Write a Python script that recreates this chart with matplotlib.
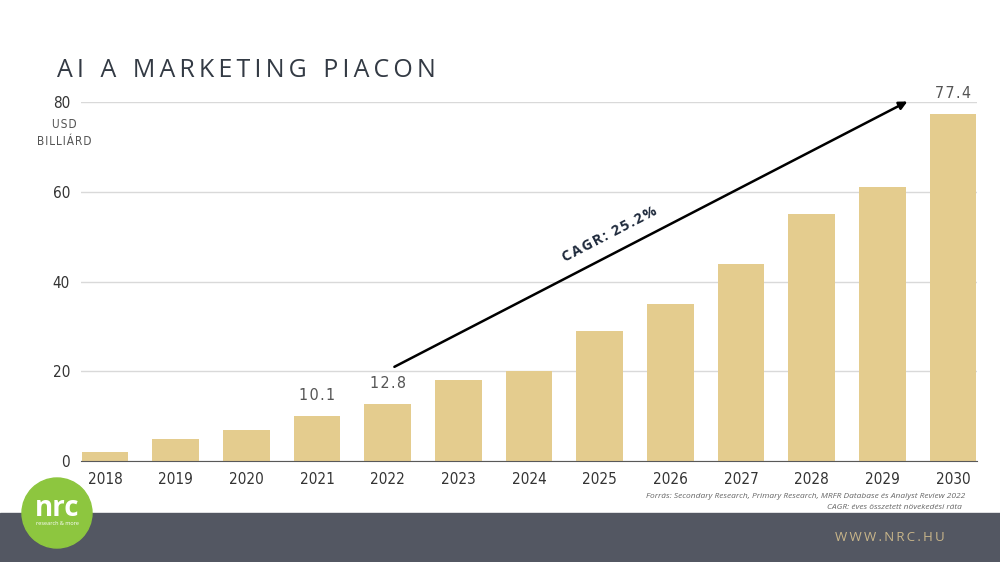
import matplotlib.pyplot as plt
from matplotlib.patches import Circle, Rectangle

years = ['2018', '2019', '2020', '2021', '2022', '2023', '2024',
         '2025', '2026', '2027', '2028', '2029', '2030']
values = [2.0, 5.0, 7.0, 10.1, 12.8, 18.0, 20.0, 29.0, 35.0, 44.0, 55.0, 61.0, 77.4]
labelled = ['2021', '2022', '2030']
y_ticks = [0, 20, 40, 60, 80]

bar_color = '#E4CC8E'

def spaced(s, sp='\u2009'):
    # letter spacing by hand
    return sp.join(s).replace(sp + ' ' + sp, sp * 4)

plt.rcParams['font.family'] = ['DejaVu Sans']
plt.rcParams['font.stretch'] = 'condensed'

fig = plt.figure(figsize=(10, 5.62), dpi=100)
fig.patch.set_facecolor('white')

ax = fig.add_axes([0.081, 0.1797, 0.896, 0.6388])
x = list(range(len(years)))
ax.bar(x, values, width=0.66, color=bar_color, zorder=3)

ax.set_xlim(-0.34, len(years) - 1 + 0.34)
ax.set_ylim(0, 80)
ax.set_yticks(y_ticks)
ax.set_xticks(x)
ax.set_xticklabels(years)
ax.tick_params(axis='both', length=0, labelsize=11, colors='#333333')
ax.tick_params(axis='y', pad=8)
ax.tick_params(axis='x', pad=8)
ax.grid(axis='y', color='#d9d9d9', linewidth=1, zorder=0)
for s in ['top', 'right', 'left']:
    ax.spines[s].set_visible(False)
ax.spines['bottom'].set_color('#595959')
ax.spines['bottom'].set_zorder(4)

for i, (yr, v) in enumerate(zip(years, values)):
    if yr in labelled:
        ax.annotate(spaced(f'{v:.1f}', '\u200a'), (i, v), xytext=(0, 9), textcoords='offset points',
                    ha='center', va='bottom', fontsize=11.5, color='#555555')

# CAGR arrow
ax.annotate('', xy=(11.39, 80.4), xytext=(4.06, 20.7),
            arrowprops=dict(arrowstyle='-|>', color='black', lw=1.8, mutation_scale=12),
            annotation_clip=False, zorder=5)
ax.text(7.14, 50.5, spaced('CAGR: 25.2%', '\u200a'), rotation=27.4, ha='center', va='center',
        fontsize=10.5, fontweight='bold', color='#1f2a3c', fontstretch='normal',
        family=['Open Sans', 'DejaVu Sans'], rotation_mode='anchor')

# title and unit
fig.text(0.057, 0.875, spaced('AI A MARKETING PIACON'), fontsize=18, color='#333a44',
         family=['Open Sans', 'DejaVu Sans'], fontstretch='normal', va='center', ha='left')
fig.text(0.064, 0.763, spaced('USD', '\u200a') + '\n' + spaced('BILLIÁRD', '\u200a'), fontsize=8.5,
         color='#555555', ha='center', va='center', linespacing=1.35)

# footer band and notes
fig.add_artist(Rectangle((0, 0), 1, 1 - 513 / 562, transform=fig.transFigure,
                         color='#535762', zorder=1))
fig.text(0.965, 0.116, 'Forrás: Secondary Research, Primary Research, MRFR Database és Analyst Review 2022',
         fontsize=6.0, style='italic', color='#666666', ha='right', va='center',
         family=['Open Sans', 'DejaVu Sans'], fontstretch='normal')
fig.text(0.962, 0.097, 'CAGR: éves összetett növekedési ráta',
         fontsize=6.0, style='italic', color='#666666', ha='right', va='center',
         family=['Open Sans', 'DejaVu Sans'], fontstretch='normal')
fig.text(0.945, 0.044, spaced('WWW.NRC.HU'), fontsize=9.5, color='#C9B68A',
         ha='right', va='center', family=['Open Sans', 'DejaVu Sans'], fontstretch='normal')

# logo
fig.add_artist(Circle((0.57, 5.62 * (1 - 513 / 562)), 0.35, transform=fig.dpi_scale_trans,
                      color='#8DC63F', zorder=2))
fig.text(0.057, 0.095, 'nrc', fontsize=20, fontweight='bold', color='white',
         ha='center', va='center', zorder=3, family=['Open Sans', 'DejaVu Sans'], fontstretch='normal')
fig.text(0.057, 0.068, 'research & more', fontsize=4, color='white',
         ha='center', va='center', zorder=3, family=['Open Sans', 'DejaVu Sans'], fontstretch='normal')

fig.savefig('out.png', dpi=100)
